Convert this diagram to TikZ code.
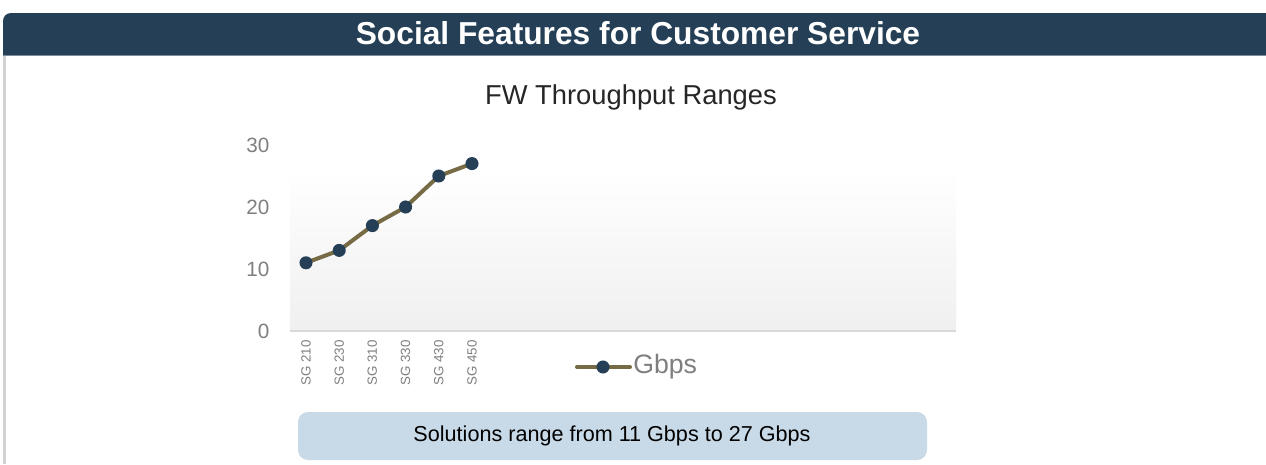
\documentclass[tikz,border=0pt]{standalone}
\usepackage{fontspec}
\setmainfont{Liberation Sans}
\definecolor{navy}{HTML}{243F56}
\definecolor{olive}{HTML}{776B45}
\definecolor{boxblue}{HTML}{C8DAE8}
\definecolor{axgray}{HTML}{7F7F7F}
\definecolor{bordergray}{HTML}{D2D2D2}
\begin{document}
\begin{tikzpicture}[x=0.75pt,y=-0.75pt,
  marker/.style={circle,fill=navy,draw=none,inner sep=0pt,minimum size=9.8pt},
  ylab/.style={anchor=east,text=axgray,font=\fontsize{15.5}{18}\selectfont},
  xlab/.style={anchor=east,rotate=90,text=axgray,inner sep=0pt,font=\fontsize{10}{12}\selectfont},
  series/.style={draw=olive,line width=3pt,line join=round}]
\useasboundingbox (0,0) rectangle (1266,464);
\fill[white] (0,0) rectangle (1266,464);
% header
\fill[navy] (3,55) [rounded corners=6pt] -- (3,13) [sharp corners] -- (1266,13) -- (1266,55) -- cycle;
\draw[color=navy!60!white,line width=0.8pt] (3,55.5) -- (1266,55.5);
\node[text=white,font=\fontsize{23.8}{28}\bfseries] (head) at (638,33) {Social Features for Customer Service};
% left border
\fill[bordergray] (3,56) rectangle (6,464);
% title
\node[text=black!85,font=\fontsize{20.5}{24}\selectfont] (title) at (631,97) {FW Throughput Ranges};
% plot area
\shade[top color=white,bottom color=black!6] (290,168) rectangle (956,330);
\draw[color=black!15,line width=1.5pt] (290,331) -- (956,331);
% y labels
\node[ylab] (y30) at (274,145) {30};
\node[ylab] (y20) at (274,207) {20};
\node[ylab] (y10) at (274,269) {10};
\node[ylab] (y0) at (274,331) {0};
% data
\coordinate (p1) at (306,262.8);
\coordinate (p2) at (339.2,250.4);
\coordinate (p3) at (372.4,225.6);
\coordinate (p4) at (405.6,207);
\coordinate (p5) at (438.8,176);
\coordinate (p6) at (472,163.6);
\draw[series] (p1) -- (p2) -- (p3) -- (p4) -- (p5) -- (p6);
\foreach \i in {1,...,6} \node[marker] (m\i) at (p\i) {};
% x labels
\node[xlab] (x1) at (306,340) {SG 210};
\node[xlab] (x2) at (339.2,340) {SG 230};
\node[xlab] (x3) at (372.4,340) {SG 310};
\node[xlab] (x4) at (405.6,340) {SG 330};
\node[xlab] (x5) at (438.8,340) {SG 430};
\node[xlab] (x6) at (472,340) {SG 450};
% legend
\coordinate (la) at (577,367);
\coordinate (lb) at (630,367);
\draw[series,line cap=round] (la) -- (lb);
\node[marker] (lm) at (603,367) {};
\node[anchor=west,inner sep=0pt,text=axgray,font=\fontsize{20}{23}\selectfont] (leg) at (633,367) {Gbps};
% bottom box
\fill[boxblue,rounded corners=7.5] (298,412) rectangle (927,460);
\node[text=black,font=\fontsize{16.2}{19}\selectfont] (sum) at (612,436) {Solutions range from 11 Gbps to 27 Gbps};
\end{tikzpicture}
\end{document}
